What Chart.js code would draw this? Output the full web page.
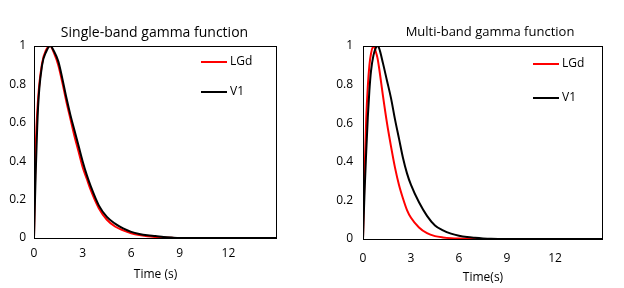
<!DOCTYPE html>
<html>
<head>
<meta charset="utf-8">
<script src="https://cdn.jsdelivr.net/npm/chart.js@4.4.1/dist/chart.umd.min.js"></script>
<style>
  body { margin: 0; background: #fff; }
  .panel { position: absolute; top: 0; width: 312px; height: 288px; }
</style>
</head>
<body>
<div class="panel" style="left:0"><canvas id="singleChart" width="312" height="288"></canvas></div>
<div class="panel" style="left:312px"><canvas id="multiChart" width="312" height="288"></canvas></div>
<script>
// values
let seriesNames = ['LGd', 'V1'];
let seriesColors = ['#ff0000', '#000000'];
let xTicks = [0, 3, 6, 9, 12];

let singleTime = [0, 0.1, 0.25, 0.5, 0.75, 1, 1.25, 1.5, 1.75, 2, 2.25, 2.5, 2.75, 3, 3.25, 3.5, 4, 4.5, 5, 5.5, 6, 6.5, 7, 7.5, 8, 8.5, 9, 15];
let singleLGd  = [0, 0.45, 0.72, 0.91, 0.98, 1, 0.96, 0.9, 0.81, 0.71, 0.62, 0.53, 0.45, 0.37, 0.31, 0.25, 0.155, 0.095, 0.06, 0.04, 0.025, 0.015, 0.009, 0.005, 0.002, 0.001, 0, 0];
let singleV1   = [0, 0.32, 0.68, 0.9, 0.97, 1, 0.97, 0.92, 0.83, 0.73, 0.64, 0.56, 0.48, 0.4, 0.33, 0.27, 0.17, 0.11, 0.075, 0.05, 0.032, 0.021, 0.014, 0.01, 0.005, 0.002, 0, 0];

let multiTime = [0, 0.1, 0.2, 0.3, 0.4, 0.5, 0.65, 0.8, 0.9, 1, 1.25, 1.5, 1.75, 2, 2.25, 2.5, 2.75, 3, 3.5, 4, 4.5, 5, 5.5, 6, 6.5, 7, 7.5, 8, 9, 15];
let multiLGd  = [0, 0.35, 0.62, 0.79, 0.9, 0.96, 1, 0.97, 0.94, 0.89, 0.74, 0.6, 0.48, 0.37, 0.28, 0.21, 0.15, 0.11, 0.06, 0.03, 0.015, 0.008, 0.004, 0.002, 0.001, 0, 0, 0, 0, 0];
let multiV1   = [0, 0.25, 0.45, 0.63, 0.77, 0.87, 0.95, 0.99, 1, 0.99, 0.91, 0.82, 0.73, 0.62, 0.52, 0.42, 0.34, 0.28, 0.19, 0.12, 0.07, 0.045, 0.028, 0.017, 0.01, 0.006, 0.003, 0.001, 0, 0];

const FONT = "'Open Sans', sans-serif";

// box round the plot, title and the legend inside the plot
const frameAndText = {
  id: 'frameAndText',
  afterDatasetsDraw(chart, args, opts) {
    const ctx = chart.ctx;
    const a = chart.chartArea;
    ctx.save();
    ctx.strokeStyle = '#000';
    ctx.lineWidth = 1;
    ctx.strokeRect(Math.round(a.left) + 0.5, Math.round(a.top) + 0.5, Math.round(a.width) - 1, Math.round(a.height));

    ctx.fillStyle = '#000';
    ctx.font = opts.titleSize + 'px ' + FONT;
    ctx.textAlign = 'center';
    ctx.textBaseline = 'middle';
    ctx.fillText(opts.title, (a.left + a.right) / 2 + opts.titleShift, opts.titleY);

    ctx.font = '12px ' + FONT;
    ctx.textAlign = 'left';
    chart.data.datasets.forEach((ds, i) => {
      let y = a.top + opts.legendY[i];
      ctx.strokeStyle = ds.borderColor;
      ctx.lineWidth = 2;
      ctx.beginPath();
      ctx.moveTo(a.right - opts.legendX[0], y);
      ctx.lineTo(a.right - opts.legendX[1], y);
      ctx.stroke();
      ctx.fillText(ds.label, a.right - opts.legendX[2], y);
    });
    ctx.restore();
  }
};

makeChart = (id, time, values, o) => {
  let ctx = document.getElementById(id).getContext('2d');
  return new Chart(ctx, {
    type: 'line',
    data: {
      datasets: values.map((v, i) => ({
        label: seriesNames[i],
        data: time.map((t, j) => ({ x: t, y: v[j] })),
        borderColor: seriesColors[i],
        borderWidth: 2,
        pointRadius: 0,
        cubicInterpolationMode: 'monotone',
        order: values.length - i
      }))
    },
    options: {
      responsive: false,
      animation: false,
      layout: { padding: { top: o.top, right: o.right, left: 0, bottom: o.bottom } },
      plugins: {
        legend: { display: false },
        tooltip: { enabled: false },
        frameAndText: o.text
      },
      scales: {
        x: {
          type: 'linear',
          min: 0,
          max: 15,
          grid: { display: false, drawTicks: false },
          border: { display: false },
          afterBuildTicks: (scale) => { scale.ticks = xTicks.map(v => ({ value: v })); },
          afterFit: (scale) => { scale.height = o.xHeight; },
          ticks: {
            color: '#000',
            padding: o.xPad,
            font: { family: FONT, size: 12 }
          },
          title: {
            display: true,
            text: o.xTitle,
            color: '#000',
            padding: { top: 2, bottom: 0 },
            font: { family: FONT, size: 12 }
          }
        },
        y: {
          min: 0,
          max: 1,
          grid: { display: false, drawTicks: false },
          border: { display: false },
          afterFit: (scale) => { scale.width = o.yWidth; },
          ticks: {
            stepSize: 0.2,
            color: '#000',
            padding: o.yPad,
            font: { family: FONT, size: 12 },
            callback: (v) => String(Math.round(v * 10) / 10)
          }
        }
      }
    },
    plugins: [frameAndText]
  });
}

makeChart('singleChart', singleTime, [singleLGd, singleV1], {
  top: 46, right: 35, bottom: 6, xHeight: 44, yWidth: 34, xPad: 8, yPad: 8,
  xTitle: 'Time (s)',
  text: { title: 'Single-band gamma function', titleSize: 14, titleY: 33, titleShift: -1,
          legendX: [76, 50, 47], legendY: [16, 46] }
});

makeChart('multiChart', multiTime, [multiLGd, multiV1], {
  top: 46, right: 21, bottom: 3, xHeight: 46, yWidth: 51, xPad: 12, yPad: 10,
  xTitle: 'Time(s)',
  text: { title: 'Multi-band gamma function', titleSize: 13, titleY: 32, titleShift: 7,
          legendX: [70, 44, 41], legendY: [18, 52] }
});
</script>
</body>
</html>
